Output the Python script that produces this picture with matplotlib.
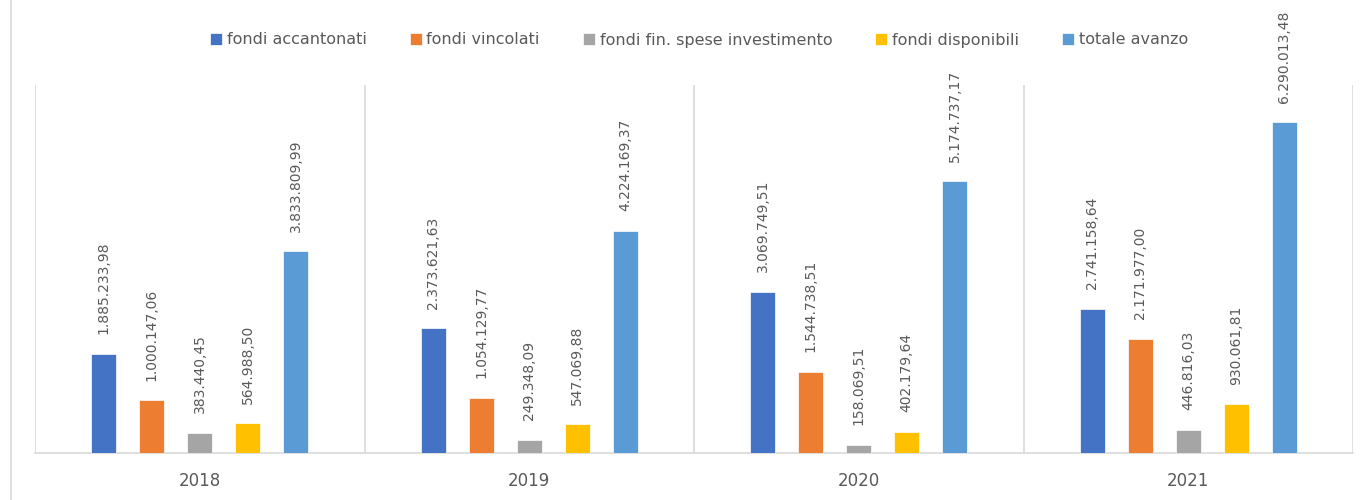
import matplotlib
matplotlib.use('Agg')
import matplotlib.pyplot as plt
from matplotlib.lines import Line2D
import numpy as np

years = ['2018', '2019', '2020', '2021']
series_names = ['fondi accantonati', 'fondi vincolati', 'fondi fin. spese investimento',
                'fondi disponibili', 'totale avanzo']
accantonati = [1885233.98, 2373621.63, 3069749.51, 2741158.64]
vincolati = [1000147.06, 1054129.77, 1544738.51, 2171977.00]
fin_investimento = [383440.45, 249348.09, 158069.51, 446816.03]
disponibili = [564988.50, 547069.88, 402179.64, 930061.81]
totale = [3833809.99, 4224169.37, 5174737.17, 6290013.48]

colors = ['#4472C4', '#ED7D31', '#A5A5A5', '#FFC000', '#5B9BD5']
txt_col = '#595959'
grid_col = '#D9D9D9'


def fmt_it(v):
    s = '{:,.2f}'.format(v)
    return s.replace(',', 'X').replace('.', ',').replace('X', '.')


fig = plt.figure(figsize=(13.72, 5), dpi=100)
ax = fig.add_axes([35/1372, 47/500, 1318/1372, 368/500])

x = np.arange(len(years))
step = 0.1457
width = 0.076
all_series = [accantonati, vincolati, fin_investimento, disponibili, totale]
for i, vals in enumerate(all_series):
    pos = x + (i - 2) * step
    bars = ax.bar(pos, vals, width, color=colors[i], label=series_names[i],
                  edgecolor='white', linewidth=0.5, zorder=3)
    for b, v in zip(bars, vals):
        ax.annotate(fmt_it(v), (b.get_x() + b.get_width()/2, v),
                    xytext=(0, 14), textcoords='offset points',
                    rotation=90, ha='center', va='bottom',
                    fontsize=10, color=txt_col)

ax.set_xlim(-0.5, 3.5)
ax.set_ylim(0, 7e6)
for s in np.arange(-0.5, 4, 1):
    ax.axvline(s, color=grid_col, linewidth=1.2, zorder=1)

ax.set_xticks(x)
ax.set_xticklabels(years, fontsize=12, color=txt_col)
ax.tick_params(axis='x', length=0, pad=14)
ax.set_yticks([])
for sp in ['left', 'right', 'top']:
    ax.spines[sp].set_visible(False)
ax.spines['bottom'].set_color(grid_col)
ax.spines['bottom'].set_linewidth(1.2)

leg = fig.legend(loc='center', bbox_to_anchor=(0.5 + 13/1372, 1 - 40/500), ncol=5,
                 frameon=False, fontsize=11.5, handlelength=0.75, handleheight=0.75,
                 handletextpad=0.3, columnspacing=2.7)
for t in leg.get_texts():
    t.set_color(txt_col)

fig.add_artist(Line2D([11/1372, 11/1372], [0, 1], color=grid_col, linewidth=1.2))

plt.savefig('out.png', dpi=100)
